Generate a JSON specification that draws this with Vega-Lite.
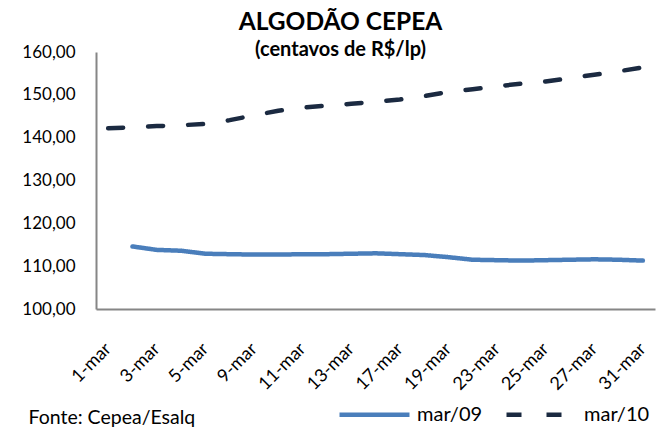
{
  "$schema": "https://vega.github.io/schema/vega-lite/v6.json",
  "width": 559,
  "height": 257,
  "autosize": "none",
  "padding": {"left": 96, "top": 52, "right": 2, "bottom": 118},
  "background": "white",
  "title": {
    "text": "ALGODÃO CEPEA",
    "subtitle": "(centavos de R$/lp)",
    "anchor": "middle",
    "dx": -35,
    "offset": -18,
    "font": "Lato",
    "fontSize": 24.5,
    "fontWeight": "bold",
    "color": "#000000",
    "subtitleFont": "Lato",
    "subtitleFontSize": 20,
    "subtitleFontWeight": "bold",
    "subtitleColor": "#000000",
    "subtitlePadding": 5
  },
  "data": {
    "values": [
      {"dia": "1-mar", "serie": "mar/10", "valor": 142.2},
      {"dia": "2-mar", "serie": "mar/10", "valor": 142.4},
      {"dia": "3-mar", "serie": "mar/10", "valor": 142.7},
      {"dia": "4-mar", "serie": "mar/10", "valor": 142.9},
      {"dia": "5-mar", "serie": "mar/10", "valor": 143.2},
      {"dia": "8-mar", "serie": "mar/10", "valor": 144.1},
      {"dia": "9-mar", "serie": "mar/10", "valor": 145.2},
      {"dia": "10-mar", "serie": "mar/10", "valor": 146.3},
      {"dia": "11-mar", "serie": "mar/10", "valor": 147.0},
      {"dia": "12-mar", "serie": "mar/10", "valor": 147.5},
      {"dia": "13-mar", "serie": "mar/10", "valor": 147.9},
      {"dia": "16-mar", "serie": "mar/10", "valor": 148.4},
      {"dia": "17-mar", "serie": "mar/10", "valor": 148.9},
      {"dia": "18-mar", "serie": "mar/10", "valor": 149.7},
      {"dia": "19-mar", "serie": "mar/10", "valor": 150.7},
      {"dia": "22-mar", "serie": "mar/10", "valor": 151.3},
      {"dia": "23-mar", "serie": "mar/10", "valor": 152.0},
      {"dia": "24-mar", "serie": "mar/10", "valor": 152.6},
      {"dia": "25-mar", "serie": "mar/10", "valor": 153.1},
      {"dia": "26-mar", "serie": "mar/10", "valor": 153.9},
      {"dia": "27-mar", "serie": "mar/10", "valor": 154.7},
      {"dia": "30-mar", "serie": "mar/10", "valor": 155.5},
      {"dia": "31-mar", "serie": "mar/10", "valor": 156.4},
      {"dia": "2-mar", "serie": "mar/09", "valor": 114.6},
      {"dia": "3-mar", "serie": "mar/09", "valor": 113.8},
      {"dia": "4-mar", "serie": "mar/09", "valor": 113.6},
      {"dia": "5-mar", "serie": "mar/09", "valor": 112.9},
      {"dia": "8-mar", "serie": "mar/09", "valor": 112.8},
      {"dia": "9-mar", "serie": "mar/09", "valor": 112.7},
      {"dia": "10-mar", "serie": "mar/09", "valor": 112.7},
      {"dia": "11-mar", "serie": "mar/09", "valor": 112.8},
      {"dia": "12-mar", "serie": "mar/09", "valor": 112.8},
      {"dia": "13-mar", "serie": "mar/09", "valor": 112.9},
      {"dia": "16-mar", "serie": "mar/09", "valor": 113.0},
      {"dia": "17-mar", "serie": "mar/09", "valor": 112.8},
      {"dia": "18-mar", "serie": "mar/09", "valor": 112.6},
      {"dia": "19-mar", "serie": "mar/09", "valor": 112.1},
      {"dia": "22-mar", "serie": "mar/09", "valor": 111.5},
      {"dia": "23-mar", "serie": "mar/09", "valor": 111.4},
      {"dia": "24-mar", "serie": "mar/09", "valor": 111.3},
      {"dia": "25-mar", "serie": "mar/09", "valor": 111.4},
      {"dia": "26-mar", "serie": "mar/09", "valor": 111.5},
      {"dia": "27-mar", "serie": "mar/09", "valor": 111.6},
      {"dia": "30-mar", "serie": "mar/09", "valor": 111.5},
      {"dia": "31-mar", "serie": "mar/09", "valor": 111.3}
    ]
  },
  "mark": {"type": "line", "strokeWidth": 4.5, "strokeCap": "round", "strokeJoin": "round"},
  "encoding": {
    "x": {
      "field": "dia",
      "type": "ordinal",
      "scale": {
        "type": "point",
        "padding": 0.5,
        "domain": ["1-mar","2-mar","3-mar","4-mar","5-mar","8-mar","9-mar","10-mar","11-mar","12-mar","13-mar","16-mar","17-mar","18-mar","19-mar","22-mar","23-mar","24-mar","25-mar","26-mar","27-mar","30-mar","31-mar"]
      },
      "axis": {
        "values": ["1-mar","3-mar","5-mar","9-mar","11-mar","13-mar","17-mar","19-mar","23-mar","25-mar","27-mar","31-mar"],
        "labelAngle": -45,
        "labelAlign": "right",
        "labelBaseline": "middle",
        "labelPadding": 37,
        "labelFont": "Lato",
        "labelFontSize": 18,
        "labelColor": "#000000",
        "ticks": false,
        "grid": false,
        "domainColor": "#868686",
        "domainWidth": 2,
        "title": "Fonte: Cepea/Esalq",
        "titleX": -68,
        "titleY": 114,
        "titleAlign": "left",
        "titleBaseline": "alphabetic",
        "titleFont": "Lato",
        "titleFontSize": 19.5,
        "titleFontWeight": "normal",
        "titleColor": "#000000"
      }
    },
    "y": {
      "field": "valor",
      "type": "quantitative",
      "scale": {"domain": [100, 160], "nice": false, "zero": false},
      "axis": {
        "values": [100, 110, 120, 130, 140, 150, 160],
        "labelExpr": "replace(format(datum.value, '.2f'), '.', ',')",
        "labelFont": "Lato",
        "labelFontSize": 17,
        "labelColor": "#000000",
        "labelPadding": 21,
        "ticks": false,
        "grid": false,
        "domainColor": "#868686",
        "domainWidth": 2,
        "title": null
      }
    },
    "color": {
      "field": "serie",
      "type": "nominal",
      "scale": {"domain": ["mar/09", "mar/10"], "range": ["#4A7EBB", "#1B2A41"]},
      "legend": {
        "title": null,
        "orient": "none",
        "direction": "horizontal",
        "legendX": 241,
        "legendY": 325,
        "symbolType": "stroke",
        "symbolSize": 4900,
        "symbolStrokeWidth": 4.5,
        "labelFont": "Lato",
        "labelFontSize": 20,
        "labelColor": "#000000",
        "labelOffset": 5,
        "columnPadding": 14
      }
    },
    "strokeDash": {
      "field": "serie",
      "type": "nominal",
      "scale": {"domain": ["mar/09", "mar/10"], "range": [[1, 0], [15, 25]]},
      "legend": null
    }
  },
  "config": {"view": {"stroke": null}}
}
